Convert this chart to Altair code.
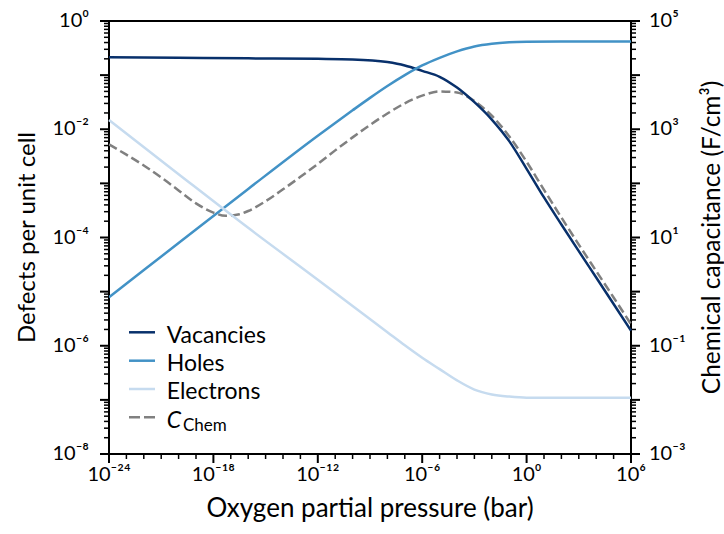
import altair as alt
import pandas as pd

FONT = "Lato"

# Defect concentrations per unit cell, sampled at log10(pO2 / bar)
vac_logp = [-24, -20, -16, -12, -10, -8, -7, -6, -5, -4, -3, -2, -1, 0, 1, 2, 3, 4, 5, 6]
vacancies = [0.214, 0.209, 0.204, 0.200, 0.195, 0.174, 0.151, 0.120, 0.0933, 0.0589,
             0.0316, 0.0151, 0.00603, 0.00186, 5.5e-4, 1.74e-4, 5.6e-5, 1.82e-5, 5.9e-6, 1.9e-6]

holes_logp = [-24, -20, -16, -12, -10, -9, -8, -7, -6, -5, -4, -3, -2, -1, 0, 2, 6]
holes = [7.9e-6, 7.9e-5, 7.9e-4, 7.6e-3, 0.0224, 0.038, 0.063, 0.100, 0.151, 0.209,
         0.275, 0.339, 0.380, 0.403, 0.412, 0.417, 0.417]

elec_logp = [-24, -20, -16, -12, -10, -8, -7, -6, -5, -4, -3, -2, -1, 0, 2, 6]
electrons = [0.0148, 1.48e-3, 1.51e-4, 1.66e-5, 5.4e-6, 1.78e-6, 1.02e-6, 6.0e-7, 3.7e-7,
             2.29e-7, 1.55e-7, 1.26e-7, 1.15e-7, 1.10e-7, 1.10e-7, 1.10e-7]

# Chemical capacitance (F/cm^3)
chem_logp = [-24, -23, -22, -21, -20, -19, -18, -17.3, -16.5, -16, -15, -14, -13, -12, -11,
             -10, -9, -8, -7, -6, -5, -4, -3, -2, -1, 0, 1, 2, 3, 4, 5, 6]
c_chem = [525, 339, 214, 129, 74, 42.7, 28.8, 25.1, 26.9, 30.9, 46.8, 77.6, 132, 229, 407,
          708, 1200, 1950, 3020, 4170, 5010, 4790, 3310, 1780, 741, 251, 75.9, 23.4, 7.4, 2.4, 0.78, 0.25]

series_names = ["Vacancies", "Holes", "Electrons"]
series_colors = ["#08306b", "#4292c6", "#c6dbef"]
chem_color = "#808080"

# Tick decades and the decades that carry labels
x_decades = list(range(-24, 7))
x_labelled = [-24, -18, -12, -6, 0, 6]
yl_decades = list(range(-8, 1))
yl_labelled = [-8, -6, -4, -2, 0]
yr_decades = list(range(-3, 6))
yr_labelled = [-3, -1, 1, 3, 5]

x_title = "Oxygen partial pressure (bar)"
yl_title = "Defects per unit cell"
yr_title = "Chemical capacitance (F/cm³)"

rows = []
for name, xs, ys in [("Vacancies", vac_logp, vacancies), ("Holes", holes_logp, holes),
                     ("Electrons", elec_logp, electrons)]:
    for lp, v in zip(xs, ys):
        rows.append({"p": 10.0 ** lp, "value": v, "series": name})
defects = pd.DataFrame(rows)
chem = pd.DataFrame({"p": [10.0 ** lp for lp in chem_logp], "c": c_chem})

SUP = str.maketrans("-0123456789", "⁻⁰¹²³⁴⁵⁶⁷⁸⁹")


def power_label(e):
    return "10" + str(e).translate(SUP)


def label_table(decades):
    return pd.DataFrame({"t": [10.0 ** d for d in decades],
                         "label": [power_label(d) for d in decades]})


def minor_values(decades):
    return [m * 10.0 ** d for d in decades[:-1] for m in range(2, 10)]


W, H = 522, 433
MAJOR_LEN, MINOR_LEN = 9, 5
LABEL_SIZE = 20

x_scale = alt.Scale(type="log", domain=[1e-24, 1e6], nice=False)
yl_scale = alt.Scale(type="log", domain=[1e-8, 1], nice=False)
yr_scale = alt.Scale(type="log", domain=[1e-3, 1e5], nice=False)

X = lambda f: alt.X(f, scale=x_scale, axis=None)
YL = lambda f: alt.Y(f, scale=yl_scale, axis=None)
YR = lambda f: alt.Y(f, scale=yr_scale, axis=None)

color_enc = alt.Color("series:N", scale=alt.Scale(domain=series_names, range=series_colors),
                      legend=None)

defect_lines = alt.Chart(defects).mark_line(strokeWidth=2.5, interpolate="monotone").encode(
    x=X("p:Q"), y=YL("value:Q"), color=color_enc)

chem_line = alt.Chart(chem).mark_line(strokeWidth=2.5, strokeDash=[9, 4], color=chem_color,
                                      interpolate="monotone").encode(
    x=X("p:Q"), y=YR("c:Q"))


def x_ticks(values, length, width):
    df = pd.DataFrame({"t": values})
    return alt.Chart(df).mark_tick(orient="vertical", color="black", size=length,
                                   thickness=width, opacity=1).encode(
        x=X("t:Q"), y=alt.value(H + length / 2))


def y_ticks(values, yenc, length, width, right=False):
    df = pd.DataFrame({"t": values})
    xc = W + length / 2 if right else -length / 2
    return alt.Chart(df).mark_tick(orient="horizontal", color="black", size=length,
                                   thickness=width, opacity=1).encode(
        y=yenc("t:Q"), x=alt.value(xc))


label_style = dict(font=FONT, fontSize=LABEL_SIZE, color="black")

x_labels = alt.Chart(label_table(x_labelled)).mark_text(
    align="center", baseline="top", **label_style).encode(
    x=X("t:Q"), y=alt.value(H + MAJOR_LEN + 2), text="label:N")
yl_labels = alt.Chart(label_table(yl_labelled)).mark_text(
    align="right", baseline="middle", **label_style).encode(
    y=YL("t:Q"), x=alt.value(-MAJOR_LEN - 11), text="label:N")
yr_labels = alt.Chart(label_table(yr_labelled)).mark_text(
    align="left", baseline="middle", **label_style).encode(
    y=YR("t:Q"), x=alt.value(W + MAJOR_LEN + 9), text="label:N")


def title_text(text, x, y, size, angle=0):
    return alt.Chart(pd.DataFrame({"label": [text]})).mark_text(
        font=FONT, fontSize=size, color="black", align="center", baseline="alphabetic",
        angle=angle).encode(x=alt.value(x), y=alt.value(y), text="label:N")


left_group = alt.layer(
    defect_lines,
    yl_labels, x_labels,
    x_ticks([10.0 ** d for d in x_decades if d % 6 == 0], MAJOR_LEN, 2),
    x_ticks([10.0 ** d for d in x_decades if d % 6 != 0], MINOR_LEN, 1.5),
    y_ticks([10.0 ** d for d in yl_decades], YL, MAJOR_LEN, 2),
    y_ticks(minor_values(yl_decades), YL, MINOR_LEN, 1.5),
)
right_group = alt.layer(
    chem_line,
    yr_labels,
    y_ticks([10.0 ** d for d in yr_decades], YR, MAJOR_LEN, 2, right=True),
    y_ticks(minor_values(yr_decades), YR, MINOR_LEN, 1.5, right=True),
)

titles = [
    title_text(x_title, W / 2, H + 63, 26),
    title_text(yl_title, -74, H / 2, 24, angle=270),
    title_text(yr_title, W + 89, H / 2, 24.5, angle=270),
]

# Hand-built legend (the subscript in C_Chem needs two text marks)
legend_layers = []
legend_rows = [("Vacancies", series_colors[0], None), ("Holes", series_colors[1], None),
               ("Electrons", series_colors[2], None), ("C", chem_color, [11, 4])]
row_y = [311.3, 339.7, 368.0, 396.3]
for (label, color, dash), ly in zip(legend_rows, row_y):
    one = pd.DataFrame({"label": [label]})
    rule_kw = dict(color=color, strokeWidth=2.5)
    if dash:
        rule_kw["strokeDash"] = dash
    legend_layers.append(alt.Chart(one).mark_rule(**rule_kw).encode(
        x=alt.value(20), x2=alt.value(46), y=alt.value(ly)))
    text_kw = dict(font=FONT, fontSize=23, color="black", align="left", baseline="alphabetic")
    if label == "C":
        text_kw["fontStyle"] = "italic"
    legend_layers.append(alt.Chart(one).mark_text(**text_kw).encode(
        x=alt.value(57.7), y=alt.value(ly + 10.4), text="label:N"))
legend_layers.append(alt.Chart(pd.DataFrame({"label": ["Chem"]})).mark_text(
    font=FONT, fontSize=17, color="black", align="left", baseline="alphabetic").encode(
    x=alt.value(74), y=alt.value(row_y[3] + 13.5), text="label:N"))

chart = alt.layer(*titles, *legend_layers, right_group, left_group).resolve_scale(
    y="independent"
).properties(
    width=W, height=H,
    autosize=alt.AutoSizeParams(type="none"),
    padding={"left": 109, "top": 21, "right": 93, "bottom": 80},
    background="white",
).configure_view(stroke="black", strokeWidth=2)

chart.save("out.html", embed_options={"renderer": "svg", "actions": False})
